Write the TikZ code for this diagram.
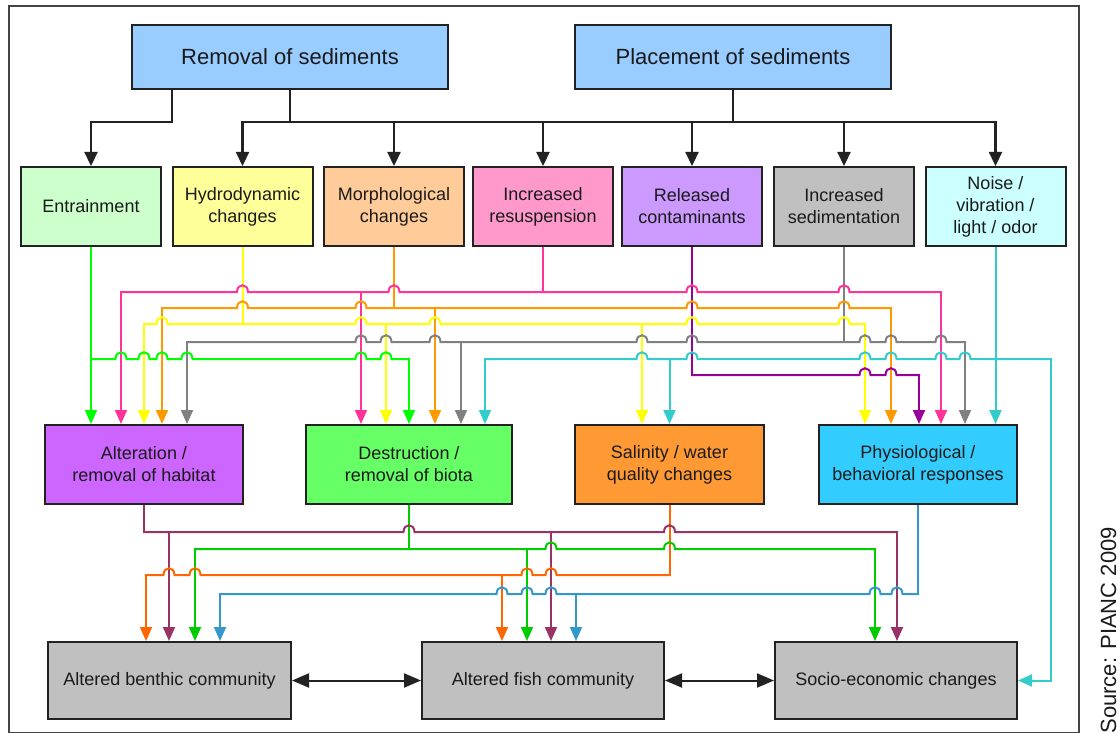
\documentclass[tikz,border=0pt]{standalone}
\usepackage{fontspec}
\setmainfont{Liberation Sans}
\usetikzlibrary{arrows.meta}

\definecolor{frameline}{HTML}{444444}
\definecolor{boxline}{HTML}{222222}
\definecolor{inktext}{HTML}{1A1A1A}
\definecolor{fillTop}{HTML}{99CCFF}
\definecolor{fillEnt}{HTML}{CCFFCC}
\definecolor{fillHyd}{HTML}{FFFF99}
\definecolor{fillMor}{HTML}{FFCC99}
\definecolor{fillRes}{HTML}{FF99CC}
\definecolor{fillRel}{HTML}{CC99FF}
\definecolor{fillSed}{HTML}{C0C0C0}
\definecolor{fillNoi}{HTML}{CCFFFF}
\definecolor{fillAlt}{HTML}{CC66FF}
\definecolor{fillDes}{HTML}{66FF66}
\definecolor{fillSal}{HTML}{FF9933}
\definecolor{fillPhy}{HTML}{33CCFF}
\definecolor{fillEnd}{HTML}{C0C0C0}
\definecolor{cGreen}{HTML}{00FF00}
\definecolor{cPink}{HTML}{FF3399}
\definecolor{cOrange}{HTML}{FF9900}
\definecolor{cYellow}{HTML}{FFFF00}
\definecolor{cGray}{HTML}{808080}
\definecolor{cTeal}{HTML}{33CCCC}
\definecolor{cPurple}{HTML}{990099}
\definecolor{cMaroon}{HTML}{993366}
\definecolor{cGreenB}{HTML}{00CC00}
\definecolor{cOrangeB}{HTML}{FF6600}
\definecolor{cBlue}{HTML}{3399CC}

\pgfdeclarelayer{background}
\pgfsetlayers{background,main}

% horizontal bus line with hop-overs: colour, y, x from, x to, hop positions
\newcommand\hopbus[5]{%
  \draw[wire,#1] (#3,#2)
    \foreach \h in {#5}{ -- ({\h-5.5},#2)
      .. controls ({\h-5.5},{#2-9}) and ({\h+5.5},{#2-9}) .. ({\h+5.5},#2) }
    -- (#4,#2);}
% arrow dropping from a bus at (x,y) onto the top edge of a node
\newcommand\dropto[4]{%
  \draw[feed,#1] (#2,#3) -- (#2,#3 |- #4.north);}

% bus levels
\def\yP{292}\def\yO{308}\def\yY{324}\def\yG{342}\def\yN{359}\def\yV{375}
\def\yM{532}\def\yL{549}\def\yR{575}\def\yB{594}
\def\yT{122}

\begin{document}
\begin{tikzpicture}[x=1pt,y=-1pt,
  box/.style={draw=boxline,line width=2pt,align=center,text=inktext,inner sep=0pt,
    font=\fontsize{18}{22}\selectfont},
  topbox/.style={box,fill=fillTop,minimum width=316pt,minimum height=64pt,
    font=\fontsize{22}{26}\selectfont},
  causebox/.style={box,minimum width=140pt,minimum height=79pt},
  effectbox/.style={box,minimum height=79pt},
  outcomebox/.style={box,fill=fillEnd,minimum width=242pt,minimum height=77pt},
  wire/.style={line width=2pt,line cap=rect},
  feed/.style={line width=2pt,-{Triangle[length=14pt,width=12pt]}},
  treeline/.style={line width=2.2pt,draw=boxline,line cap=rect},
  treehead/.style={line width=2.2pt,draw=boxline,-{Triangle[length=14pt,width=13pt]}},
  link/.style={line width=2pt,draw=boxline,
    {Triangle[length=17pt,width=14pt]}-{Triangle[length=17pt,width=14pt]}},
]
\useasboundingbox (0,0) rectangle (1120,733);
\draw[frameline,line width=1.5pt] (9,6) rectangle (1079,733);

% sources
\node[topbox] (rem) at (290,57) {Removal of sediments};
\node[topbox] (pla) at (733,57) {Placement of sediments};

% stressors
\node[causebox,fill=fillEnt] (ent) at (91,206.5)   {Entrainment};
\node[causebox,fill=fillHyd] (hyd) at (242.5,206.5) {Hydrodynamic\\changes};
\node[causebox,fill=fillMor] (mor) at (394,206.5)  {Morphological\\changes};
\node[causebox,fill=fillRes] (res) at (543,206.5)  {Increased\\resuspension};
\node[causebox,fill=fillRel] (rel) at (692,206.5)  {Released\\contaminants};
\node[causebox,fill=fillSed] (sed) at (844,206.5)  {Increased\\sedimentation};
\node[causebox,fill=fillNoi] (noi) at (995.5,206.5) {Noise /\\vibration /\\light / odor};

% effects
\node[effectbox,fill=fillAlt,minimum width=198pt] (alt) at (144,464.5)   {Alteration /\\removal of habitat};
\node[effectbox,fill=fillDes,minimum width=206pt] (des) at (409,464.5)   {Destruction /\\removal of biota};
\node[effectbox,fill=fillSal,minimum width=189pt] (sal) at (669.5,464.5) {Salinity / water\\quality changes};
\node[effectbox,fill=fillPhy,minimum width=198pt] (phy) at (918,464.5)   {Physiological /\\behavioral responses};

% outcomes
\node[outcomebox,minimum width=243pt] (ben) at (169.5,680.5) {Altered benthic community};
\node[outcomebox] (fis) at (543,680.5) {Altered fish community};
\node[outcomebox] (soc) at (896,680.5) {Socio-economic changes};

\draw[link] (ben.east) -- (fis.west);
\draw[link] (fis.east) -- (soc.west);

\node[rotate=90,anchor=base west,font=\fontsize{22}{26}\selectfont,text=inktext]
  (src) at (1116,737) {Source: PIANC 2009};

\begin{pgfonlayer}{background}
% activities to stressors
\draw[treehead] (rem.south -| 172,0) |- (ent.north |- 0,\yT) -- (ent.north);
\draw[treeline] (rem.south) -- (rem.south |- 0,\yT);
\draw[treeline] (pla.south) -- (pla.south |- 0,\yT);
\draw[treeline] (hyd.north |- 0,\yT) -- (noi.north |- 0,\yT);
\foreach \n in {hyd,mor,res,rel,sed,noi}
  \draw[treehead] (\n.north |- 0,\yT) -- (\n.north);

% stressors to effects: risers
\draw[wire,cYellow] (hyd.south) -- (hyd.south |- 0,\yY);
\draw[wire,cOrange] (mor.south) -- (mor.south |- 0,\yO);
\draw[wire,cPink]   (res.south) -- (res.south |- 0,\yP);
\draw[wire,cPurple] (rel.south) -- (rel.south |- 0,\yV);
\draw[wire,cGray]   (sed.south) -- (sed.south |- 0,\yG);
\draw[feed,cTeal]   (noi.south) -- (noi.south |- phy.north);
\draw[feed,cGreen]  (ent.south) -- (ent.south |- alt.north);

% drops
\dropto{cPink}{121}{\yP}{alt}
\dropto{cYellow}{144}{\yY}{alt}
\dropto{cOrange}{162}{\yO}{alt}
\dropto{cGray}{187}{\yG}{alt}
\dropto{cPink}{361}{\yP}{des}
\dropto{cYellow}{386}{\yY}{des}
\dropto{cGreen}{409}{\yN}{des}
\dropto{cOrange}{435}{\yO}{des}
\dropto{cGray}{461}{\yG}{des}
\dropto{cTeal}{485}{\yN}{des}
\dropto{cYellow}{642}{\yY}{sal}
\dropto{cTeal}{669.5}{\yN}{sal}
\dropto{cYellow}{865}{\yY}{phy}
\dropto{cOrange}{891}{\yO}{phy}
\dropto{cPurple}{919}{\yV}{phy}
\dropto{cPink}{941}{\yP}{phy}
\dropto{cGray}{965}{\yG}{phy}
\draw[feed,cTeal] (1051,\yN) |- (soc.east);

% buses
\hopbus{cPink}{\yP}{121}{941}{242.5,394,692,844}
\hopbus{cOrange}{\yO}{162}{891}{242.5,361,692,844}
\hopbus{cYellow}{\yY}{144}{865}{162,361,435,692,844}
\hopbus{cGray}{\yG}{187}{965}{361,386,435,642,692,865,891,941}
\hopbus{cGreen}{\yN}{91}{409}{121,144,162,187,361,386}
\hopbus{cTeal}{\yN}{485}{1051}{642,692,865,891,941,965}
\hopbus{cPurple}{\yV}{692}{919}{865,891}

% effects to outcomes: risers
\draw[wire,cMaroon]  (alt.south) -- (alt.south |- 0,\yM);
\draw[wire,cGreenB]  (des.south) -- (des.south |- 0,\yL);
\draw[wire,cOrangeB] (sal.south) -- (sal.south |- 0,\yR);
\draw[wire,cBlue]    (phy.south) -- (phy.south |- 0,\yB);

% drops
\dropto{cOrangeB}{146}{\yR}{ben}
\dropto{cMaroon}{169}{\yM}{ben}
\dropto{cGreenB}{195}{\yL}{ben}
\dropto{cBlue}{220}{\yB}{ben}
\dropto{cOrangeB}{502}{\yR}{fis}
\dropto{cGreenB}{527}{\yL}{fis}
\dropto{cMaroon}{551}{\yM}{fis}
\dropto{cBlue}{576}{\yB}{fis}
\dropto{cGreenB}{875}{\yL}{soc}
\dropto{cMaroon}{897}{\yM}{soc}

% buses
\hopbus{cMaroon}{\yM}{144}{897}{409,669.5}
\hopbus{cGreenB}{\yL}{195}{875}{551,669.5}
\hopbus{cOrangeB}{\yR}{146}{669.5}{169,195,527,551}
\hopbus{cBlue}{\yB}{220}{918}{502,527,551,875,897}
\end{pgfonlayer}
\end{tikzpicture}
\end{document}
